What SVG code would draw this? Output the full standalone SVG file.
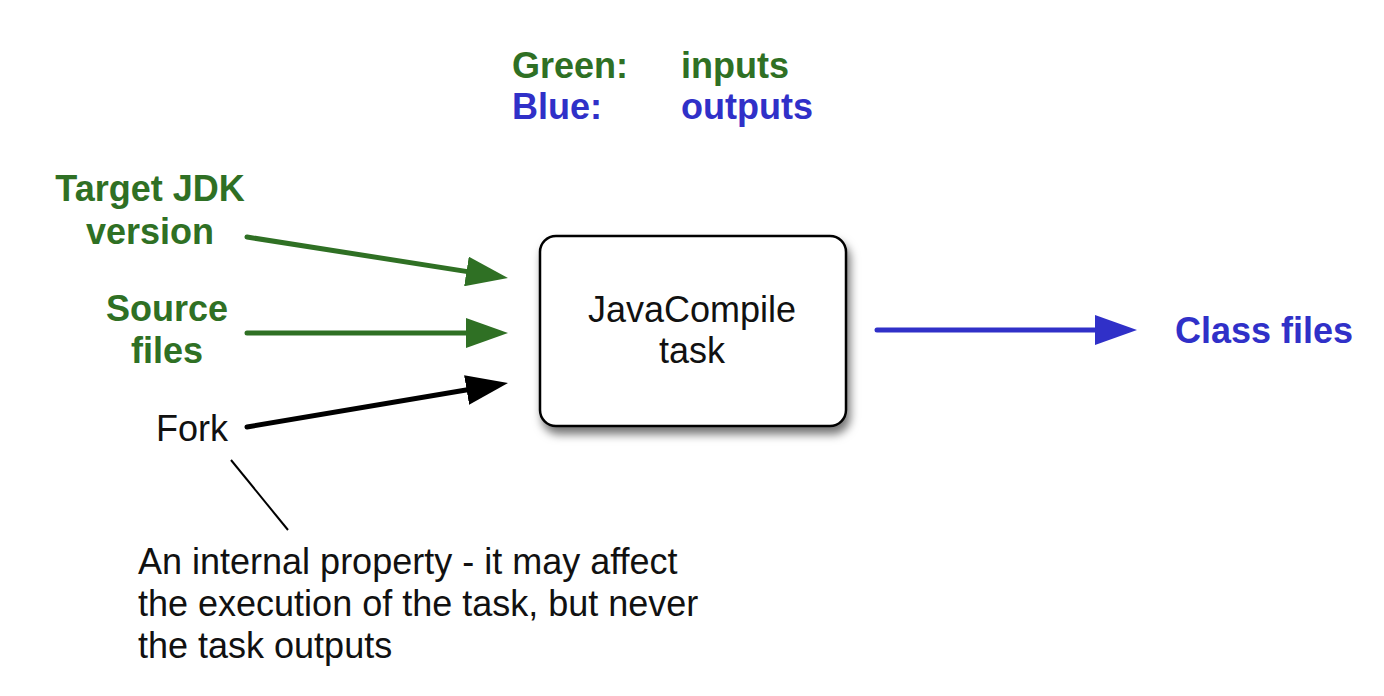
<svg xmlns="http://www.w3.org/2000/svg" width="1384" height="696" viewBox="0 0 1384 696">
  <defs>
    <style>
      text { font-family: "Liberation Sans", Arial, sans-serif; font-size: 36px; }
      .b { font-weight: bold; }
      .g { fill: #2f7024; }
      .bl { fill: #3030c8; }
      .k { fill: #111; }
      .mid { text-anchor: middle; }
      .arr { fill: none; stroke-width: 5; stroke-linecap: round; }
    </style>
    <marker id="hg" markerUnits="userSpaceOnUse" markerWidth="42" markerHeight="30" viewBox="0 0 42 30" refX="22" refY="15" orient="auto">
      <path d="M0,0 L42,15 L0,30 z" fill="#2f7024"/>
    </marker>
    <marker id="hk" markerUnits="userSpaceOnUse" markerWidth="42" markerHeight="30" viewBox="0 0 42 30" refX="22" refY="15" orient="auto">
      <path d="M0,0 L42,15 L0,30 z" fill="#000"/>
    </marker>
    <marker id="hb" markerUnits="userSpaceOnUse" markerWidth="42" markerHeight="30" viewBox="0 0 42 30" refX="22" refY="15" orient="auto">
      <path d="M0,0 L42,15 L0,30 z" fill="#3030c8"/>
    </marker>
    <filter id="sh" x="-20%" y="-20%" width="140%" height="150%">
      <feDropShadow dx="3" dy="7" stdDeviation="5" flood-color="#000" flood-opacity="0.55"/>
    </filter>
  </defs>
  <rect width="1384" height="696" fill="#fff"/>

  <g id="legend">
    <text class="b g" x="512" y="78">Green:</text>
    <text class="b g" x="681" y="78">inputs</text>
    <text class="b bl" x="512" y="119">Blue:</text>
    <text class="b bl" x="681" y="119">outputs</text>
  </g>

  <g id="target-jdk">
    <text class="b g mid" x="150" y="201">Target JDK</text>
    <text class="b g mid" x="150" y="244">version</text>
  </g>
  <g id="source-files">
    <text class="b g mid" x="167" y="321">Source</text>
    <text class="b g mid" x="167" y="363">files</text>
  </g>
  <g id="fork">
    <text class="k mid" x="192" y="441">Fork</text>
  </g>

  <g id="javacompile">
    <rect x="540" y="236" width="306" height="190" rx="16" fill="#fff" stroke="#000" stroke-width="2.5" filter="url(#sh)"/>
    <text class="k mid" x="692" y="322">JavaCompile</text>
    <text class="k mid" x="692" y="363">task</text>
  </g>

  <g id="class-files">
    <text class="b bl" x="1175" y="343">Class files</text>
  </g>

  <g id="note">
    <text class="k" x="138" y="574">An internal property - it may affect</text>
    <text class="k" x="138" y="616">the execution of the task, but never</text>
    <text class="k" x="138" y="658">the task outputs</text>
  </g>

  <g id="connectors">
    <path class="arr" stroke="#2f7024" d="M247,237 L488.2,274.9" marker-end="url(#hg)"/>
    <path class="arr" stroke="#2f7024" d="M247,333 L488,333" marker-end="url(#hg)"/>
    <path class="arr" stroke="#000" d="M247,427 L488.3,386.3" marker-end="url(#hk)"/>
    <path class="arr" stroke="#3030c8" d="M877,330 L1117,330" marker-end="url(#hb)"/>
    <path fill="none" stroke="#000" stroke-width="2" d="M231,460 L288,530"/>
  </g>
</svg>
